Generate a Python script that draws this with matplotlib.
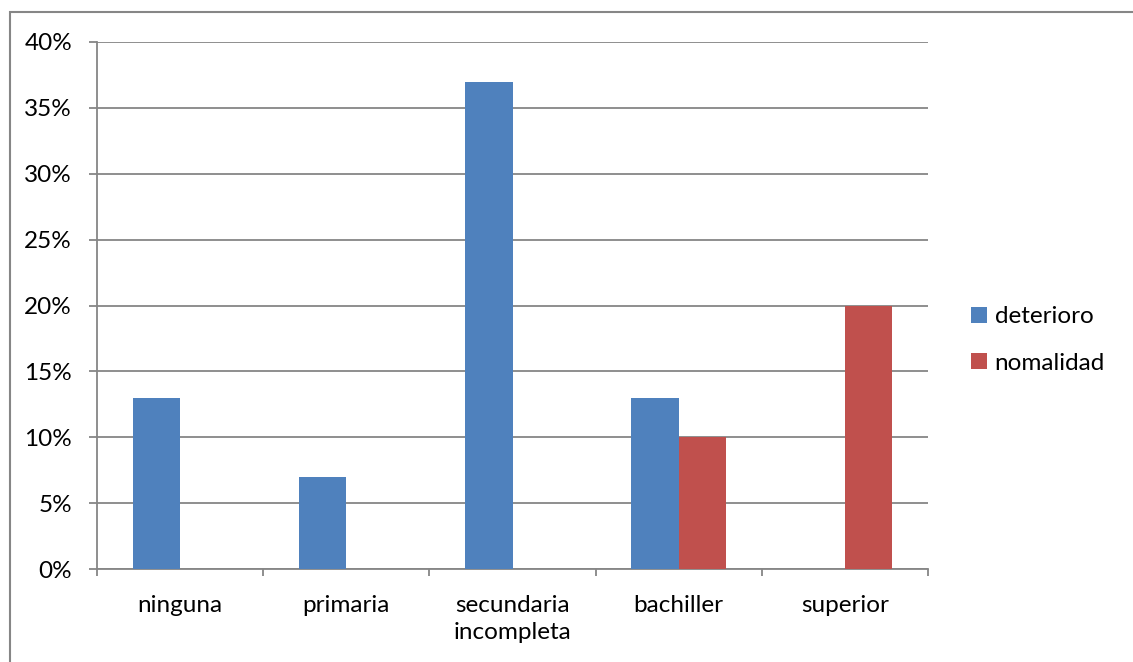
import matplotlib
matplotlib.use("Agg")
import matplotlib.pyplot as plt
from matplotlib.patches import Rectangle
import numpy as np

categories = ["ninguna", "primaria", "secundaria\nincompleta", "bachiller", "superior"]
deterioro = [13, 7, 37, 13, 0]
nomalidad = [0, 0, 0, 10, 20]
series_names = ["deterioro", "nomalidad"]
colors = ["#4F81BD", "#C0504D"]
yticks = [0, 5, 10, 15, 20, 25, 30, 35, 40]

plt.rcParams["font.family"] = ["Lato", "DejaVu Sans"]

W, H = 1133, 662
PX = 72 / 100  # points per pixel at 100 dpi
FS = 17.5
fig = plt.figure(figsize=(W / 100, H / 100), dpi=100)
fig.patch.set_facecolor("white")

# chart-area frame
fig.patches.append(Rectangle((10 / W, -0.1), 1.2, 1 - 12 / H + 0.1,
                             transform=fig.transFigure, fill=False,
                             edgecolor="#868686", linewidth=1.5))

ax = fig.add_axes([97 / W, 1 - 569 / H, (928 - 97) / W, (569 - 42) / H])

x = np.arange(len(categories))
w = 1 / 3.5
b1 = ax.bar(x - w / 2, deterioro, width=w, color=colors[0], label=series_names[0], zorder=3)
b2 = ax.bar(x + w / 2, nomalidad, width=w, color=colors[1], label=series_names[1], zorder=3)

ax.set_xlim(-0.5, len(categories) - 0.5)
ax.set_ylim(0, 40)
ax.set_yticks(yticks)
ax.set_yticklabels([f"{v}%" for v in yticks])
ax.yaxis.grid(True, color="#868686", linewidth=1.3, zorder=0)
ax.set_axisbelow(True)

ax.set_xticks(np.arange(len(categories) + 1) - 0.5)
ax.set_xticklabels([])
ax.set_xticks(x, minor=True)
ax.set_xticklabels(categories, minor=True, fontsize=FS, linespacing=1.38)
ax.tick_params(axis="x", which="minor", length=0, pad=26 * PX)
ax.tick_params(axis="x", which="major", length=7 * PX, color="#868686", width=1.3)
ax.tick_params(axis="y", length=8 * PX, color="#868686", width=1.3,
               labelsize=FS, pad=17 * PX)

for s in ["top", "right"]:
    ax.spines[s].set_visible(False)
for s in ["left", "bottom"]:
    ax.spines[s].set_color("#868686")
    ax.spines[s].set_linewidth(1.3)

leg = fig.legend(handles=[b1, b2], labels=series_names, loc="center left",
                 bbox_to_anchor=(952 / W, 1 - 340 / H), frameon=False,
                 fontsize=FS, handlelength=0.62, handleheight=0.62,
                 handletextpad=0.33, labelspacing=1.05, borderpad=0.3)

fig.savefig("out.png", dpi=100)
